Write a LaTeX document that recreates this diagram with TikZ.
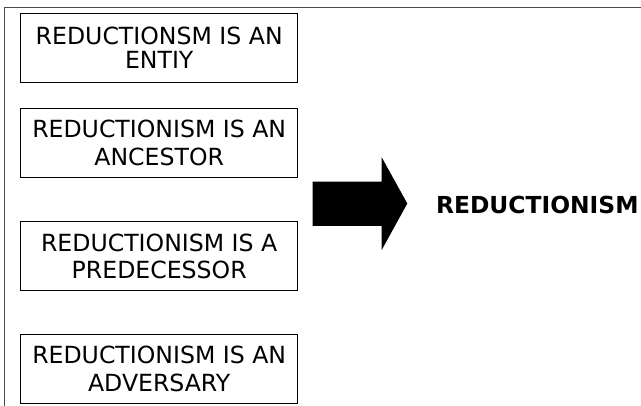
\documentclass[tikz,border=0pt]{standalone}
\usepackage{fontspec}
\setmainfont{DejaVu Sans}
\begin{document}
\begin{tikzpicture}[x=1pt,y=-1pt,
  claim/.style={draw=black, line width=0.9pt, minimum width=277pt, minimum height=69pt,
    inner sep=0pt, align=center, font=\fontsize{23.6}{27.5}\selectfont},
  frameline/.style={draw=black!70, line width=1pt}]
  \useasboundingbox (0,0) rectangle (641,406);
  % page frame: top and left rules
  \draw[frameline] (4,406) -- (4,8) -- (641,8);
  % the four statements
  \node[claim, font=\fontsize{23.6}{24}\selectfont] (entity) at (159.2,47.5) {REDUCTIONSM IS AN\\ENTIY};
  \node[claim] (ancestor) at (159.2,142.8) {REDUCTIONISM IS AN\\ANCESTOR};
  \node[claim, font=\fontsize{23.6}{26.7}\selectfont] (predecessor) at (159.2,256.3) {REDUCTIONISM IS A\\PREDECESSOR};
  \node[claim, font=\fontsize{23.6}{28}\selectfont] (adversary) at (159.2,369.2) {REDUCTIONISM IS AN\\ADVERSARY};
  % block arrow
  \fill[black] (312.7,181.7) -- (381.7,181.7) -- (381.7,157.3) -- (407.3,203.5)
    -- (381.7,250) -- (381.7,226) -- (312.7,226) -- cycle;
  % conclusion
  \node[inner sep=0pt, font=\bfseries\fontsize{23.4}{28}\selectfont] (result) at (537.3,205.3) {REDUCTIONISM};
\end{tikzpicture}
\end{document}
